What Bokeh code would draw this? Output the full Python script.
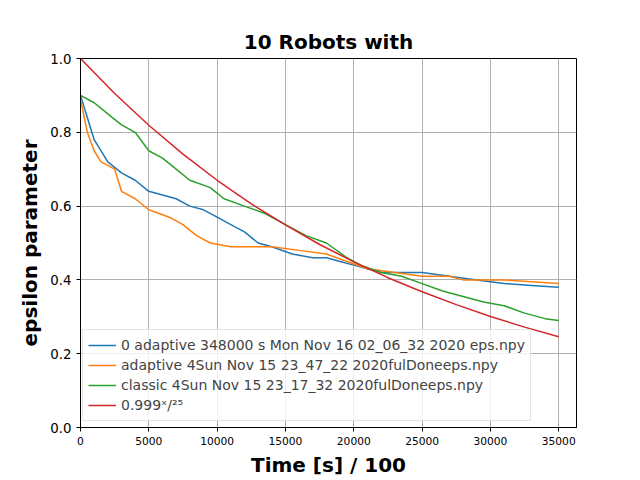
from bokeh.embed import file_html
from bokeh.resources import INLINE
from bokeh.plotting import figure
from bokeh.models import Legend, LegendItem, Range1d

# values
blue_x = [0, 500, 1000, 2000, 3000, 4000, 5000, 7000, 8000, 9000, 10000, 11000, 12000, 13000,
          14000, 15500, 17000, 18000, 19000, 20000, 21000, 22000, 25000, 27000, 29000, 31000, 33000, 35000]
blue_y = [0.90, 0.84, 0.78, 0.72, 0.69, 0.67, 0.64, 0.62, 0.60, 0.59, 0.57, 0.55, 0.53, 0.50,
          0.49, 0.47, 0.46, 0.46, 0.45, 0.44, 0.43, 0.42, 0.42, 0.41, 0.40, 0.39, 0.385, 0.38]

orange_x = [0, 500, 1000, 1500, 2500, 3000, 4000, 5000, 6500, 7500, 8500, 9500, 11000, 14000,
            16000, 18000, 19500, 21000, 23000, 25000, 27000, 28000, 31000, 35000]
orange_y = [0.89, 0.80, 0.75, 0.72, 0.70, 0.64, 0.62, 0.59, 0.57, 0.55, 0.52, 0.50, 0.49, 0.49,
            0.48, 0.47, 0.45, 0.43, 0.42, 0.41, 0.41, 0.40, 0.40, 0.39]

green_x = [0, 1000, 2000, 3000, 4000, 5000, 6000, 7000, 8000, 9500, 10500, 12000, 13500, 15000,
           16500, 18000, 19500, 20500, 22000, 23500, 25000, 26500, 28000, 29500, 31000, 32500, 34000, 35000]
green_y = [0.90, 0.88, 0.85, 0.82, 0.80, 0.75, 0.73, 0.70, 0.67, 0.65, 0.62, 0.60, 0.58, 0.55,
           0.52, 0.50, 0.46, 0.44, 0.42, 0.41, 0.39, 0.37, 0.355, 0.34, 0.33, 0.31, 0.295, 0.29]

red_x = [0, 2500, 5000, 7500, 10000, 12500, 15000, 17500, 20000, 22500, 25000, 27500, 30000, 32500, 35000]
red_y = [1.0, 0.905, 0.819, 0.741, 0.670, 0.606, 0.549, 0.496, 0.449, 0.406, 0.368, 0.333, 0.301, 0.272, 0.246]

labels = ["0 adaptive 348000 s Mon Nov 16 02_06_32 2020 eps.npy",
          "adaptive 4Sun Nov 15 23_47_22 2020fulDoneeps.npy",
          "classic 4Sun Nov 15 23_17_32 2020fulDoneeps.npy",
          "0.999ˣ/²⁵"]
colors = ["#1f77b4", "#ff7f0e", "#2ca02c", "#d62728"]

p = figure(width=640, height=480, output_backend="svg", toolbar_location=None,
           title="10 Robots with", x_axis_label="Time [s] / 100", y_axis_label="epsilon parameter",
           min_border_left=80, min_border_right=64, min_border_top=58, min_border_bottom=53)
p.x_range = Range1d(0, 36300)
p.y_range = Range1d(0, 1.0)
p.title.align = "center"
p.title.text_font = "DejaVu Sans"
p.title.text_font_size = "15pt"
p.title.text_font_style = "bold"
p.title.text_color = "black"
for ax in (p.xaxis, p.yaxis):
    ax.axis_label_text_font = "DejaVu Sans"
    ax.axis_label_text_font_size = "15pt"
    ax.axis_label_text_font_style = "bold"
    ax.axis_label_text_color = "black"
    ax.major_label_text_font = "DejaVu Sans"
    ax.major_label_text_font_size = "10pt"
    ax.major_label_text_color = "black"
    ax.minor_tick_line_color = None
    ax.major_tick_in = 0
    ax.major_tick_out = 4
p.xaxis.major_label_text_font_size = "8pt"
p.xaxis.ticker = [0, 5000, 10000, 15000, 20000, 25000, 30000, 35000]
p.yaxis.ticker = [0.0, 0.2, 0.4, 0.6, 0.8, 1.0]
p.yaxis.major_label_overrides = {0.0: "0.0", 0.2: "0.2", 0.4: "0.4", 0.6: "0.6", 0.8: "0.8", 1.0: "1.0"}
p.xgrid.grid_line_color = "#b0b0b0"
p.ygrid.grid_line_color = "#b0b0b0"
p.outline_line_color = "black"

items = []
for xs, ys, c, lab in zip([blue_x, orange_x, green_x, red_x], [blue_y, orange_y, green_y, red_y], colors, labels):
    r = p.line(xs, ys, line_color=c, line_width=1.5)
    items.append(LegendItem(label=lab, renderers=[r]))

legend = Legend(items=items, location=(2, 6), label_text_font="DejaVu Sans",
                label_text_font_size="10.5pt", background_fill_alpha=0.8,
                border_line_color="#cccccc", spacing=0, padding=5, glyph_width=28,
                label_height=20, margin=0)
p.add_layout(legend)

open("out.html", "w").write(file_html(p, INLINE))
